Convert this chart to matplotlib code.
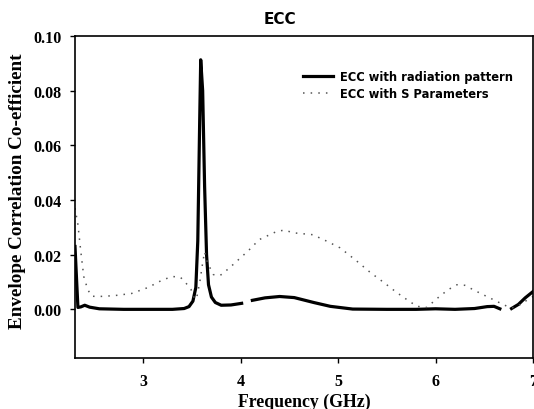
import numpy as np
import matplotlib.pyplot as plt

# ECC from radiation pattern (NaN = gap in the trace)
freq_rad = [2.30, 2.32, 2.33, 2.36, 2.40, 2.45, 2.55, 2.8, 3.1, 3.3, 3.42, 3.47, 3.51, 3.54,
            3.56, 3.58, 3.59, 3.61, 3.63, 3.65, 3.67, 3.70, 3.74, 3.80, 3.90, 4.01,
            4.05,
            4.12, 4.25, 4.40, 4.55, 4.75, 4.92, 5.15, 5.5, 5.8, 6.0, 6.2, 6.4, 6.53, 6.60, 6.66,
            6.72,
            6.78, 6.85, 6.92, 7.00]
ecc_rad = [0.023, 0.008, 0.0007, 0.0009, 0.0015, 0.0008, 0.0002, 0.0, 0.0, 0.0, 0.0003, 0.001, 0.003, 0.008,
           0.025, 0.070, 0.0913, 0.080, 0.045, 0.020, 0.009, 0.0045, 0.0025, 0.0015, 0.0016, 0.0022,
           np.nan,
           0.0033, 0.0042, 0.0047, 0.0043, 0.0025, 0.0011, 0.0001, 0.0, 0.0, 0.0002, 0.0, 0.0003, 0.001, 0.0011, 0.0002,
           np.nan,
           0.0003, 0.0018, 0.0042, 0.0065]

# ECC from S parameters
freq_s = [2.30, 2.33, 2.36, 2.39, 2.43, 2.47, 2.55, 2.7, 2.88, 3.05, 3.20, 3.30, 3.38, 3.43,
          3.49, 3.53, 3.55, 3.58, 3.61, 3.63, 3.66, 3.72, 3.79, 3.88, 3.96, 4.08, 4.19,
          4.37, 4.45, 4.54, 4.74, 4.88, 5.02, 5.18, 5.33, 5.47, 5.60, 5.72, 5.81, 5.91,
          6.04, 6.13, 6.22, 6.30, 6.38, 6.48, 6.59, 6.68, 6.76, 6.82, 6.90, 7.00]
ecc_s = [0.037, 0.031, 0.021, 0.012, 0.0073, 0.0048, 0.0047, 0.005, 0.0058, 0.008, 0.0108, 0.012, 0.0118, 0.010,
         0.0073, 0.0036, 0.0045, 0.0098, 0.017, 0.021, 0.017, 0.0127, 0.0124, 0.015, 0.0176, 0.0215, 0.0255,
         0.0285, 0.029, 0.028, 0.0273, 0.025, 0.0225, 0.018, 0.0135, 0.0098, 0.0062, 0.0032, 0.0011, 0.0007,
         0.0047, 0.0072, 0.009, 0.0088, 0.0073, 0.0055, 0.0036, 0.002, 0.0007, 0.0006, 0.0025, 0.0047]

x_ticks = [3, 4, 5, 6, 7]
y_ticks = [0.00, 0.02, 0.04, 0.06, 0.08, 0.10]

serif = 'Liberation Serif'
sans = 'DejaVu Sans'

fig = plt.figure(figsize=(5.34, 4.10), dpi=100)
ax = fig.add_axes([75 / 534, 51 / 410, 458 / 534, 322 / 410])

ax.plot(freq_rad, ecc_rad, color='black', lw=2.3, label='ECC with radiation pattern')
ax.plot(freq_s, ecc_s, color='#555555', lw=1.1, ls=(0, (1, 4)), label='ECC with S Parameters')

ax.set_xlim(2.3, 7.0)
ax.set_ylim(-0.0178, 0.10)
ax.set_xticks(x_ticks)
ax.set_yticks(y_ticks)
ax.set_xticklabels([str(t) for t in x_ticks], fontfamily=serif, fontweight='bold', fontsize=11.5)
ax.set_yticklabels([f'{t:.2f}' for t in y_ticks], fontfamily=serif, fontweight='bold', fontsize=11.5)
ax.tick_params(direction='out', length=3.5, width=1)
ax.tick_params(axis='x', pad=7)
ax.tick_params(axis='y', pad=6)
for s in ax.spines.values():
    s.set_linewidth(1.2)

ax.set_xlabel('Frequency (GHz)', fontfamily=serif, fontweight='bold', fontsize=12.8)
ax.set_ylabel('Envelope Correlation Co-efficient', fontfamily=serif, fontweight='bold', fontsize=13.8)
ax.xaxis.set_label_coords(0.5, (359 - 402) / 322)
ax.xaxis.label.set_va('center')
ax.yaxis.set_label_coords((17 - 75) / 458, (359 - 191) / 322)
ax.yaxis.label.set_va('center')

fig.text(280 / 534, 1 - 19 / 410, 'ECC', ha='center', va='center',
         fontfamily=sans, fontweight='bold', fontsize=11)

ax.legend(loc='upper left', bbox_to_anchor=(0.497, 0.895), frameon=False,
          prop={'family': sans, 'weight': 'bold', 'size': 8.3},
          handlelength=2.6, handletextpad=0.6, labelspacing=0.4, borderaxespad=0,
          borderpad=0)

fig.savefig('out.png', dpi=100)
